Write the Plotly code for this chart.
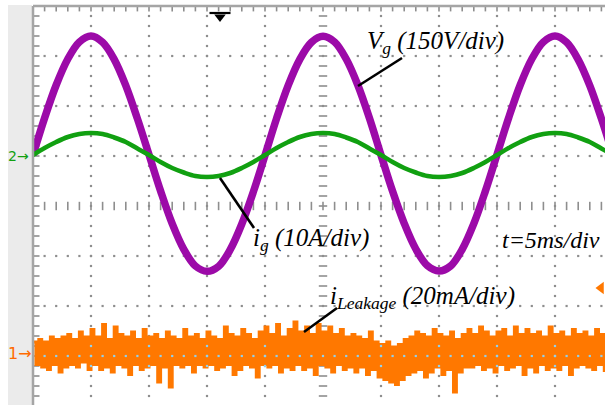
import plotly.graph_objects as go

# ---------------- data ----------------
t_ms = list(range(0, 51))  # 1 ms samples, 5 ms/div

vg_volts = [0, 111, 210, 288, 339, 357, 338, 287, 208, 109,
            1, -108, -206, -283, -333, -349, -334, -284, -207, -110,
            -1, 110, 209, 287, 338, 356, 339, 288, 210, 111,
            0, -109, -205, -282, -332, -348, -333, -283, -206, -108,
            1, 111, 210, 288, 339, 357, 338, 286, 208, 109, 0]

ig_amps = [0, 1.4, 2.6, 3.6, 4.2, 4.4, 4.2, 3.5, 2.6, 1.3,
           0, -1.4, -2.6, -3.5, -4.2, -4.4, -4.2, -3.6, -2.6, -1.4,
           0, 1.4, 2.6, 3.6, 4.2, 4.4, 4.2, 3.5, 2.6, 1.3,
           0, -1.4, -2.6, -3.5, -4.2, -4.4, -4.2, -3.6, -2.6, -1.4,
           0, 1.4, 2.6, 3.6, 4.2, 4.4, 4.2, 3.5, 2.6, 1.3, 0]

leak_step_ms = 0.25
leak_ma = [4, -5, 5, -6, 4, -7, 6, -5, 5, -8,
           6, -6, 7, -5, 5, -6, 8, -4, 6, -7,
           9, -5, 6, -7, 11, -6, 5, -8, 10, -5,
           7, -6, 6, -9, 8, -5, 5, -7, 9, -6,
           6, -5, 7, -12, 5, -6, 8, -14, 6, -5,
           5, -6, 9, -5, 6, -8, 7, -5, 5, -6,
           8, -5, 6, -7, 5, -6, 10, -5, 7, -9,
           6, -7, 9, -5, 7, -6, 5, -10, 8, -5,
           10, -6, 7, -5, 11, -8, 6, -6, 9, -7,
           12, -5, 8, -7, 10, -6, 7, -9, 11, -5,
           8, -6, 10, -8, 7, -5, 9, -7, 6, -6,
           7, -8, 6, -6, 5, -9, 8, -7, 4, -10,
           3, -11, 4, -12, 2, -13, 3, -11, 5, -9,
           6, -8, 8, -7, 7, -10, 6, -8, 9, -6,
           7, -9, 6, -7, 8, -16, 5, -8, 7, -6,
           9, -6, 7, -5, 10, -7, 8, -6, 6, -8,
           8, -5, 9, -7, 6, -6, 10, -5, 7, -9,
           9, -6, 7, -8, 8, -5, 6, -7, 10, -6,
           7, -7, 8, -5, 6, -9, 9, -6, 7, -5,
           8, -6, 6, -7, 9, -5, 7, -8]

# channel scales (units per division) and ground levels (divisions)
VG_PER_DIV, IG_PER_DIV, LEAK_PER_DIV = 150.0, 10.0, 20.0
VG_GND, IG_GND, LEAK_GND = 1.02, 1.02, -2.92

# ---------------- geometry ----------------
W, H = 605, 405
ML, MT = 33, 6
PX_PER_DIV_X, PX_PER_DIV_Y = 58.0, 50.0
MS_PER_DIV = 5.0
X_MAX = (W - ML) / PX_PER_DIV_X * MS_PER_DIV
Y_MIN = -4 + 1 / PX_PER_DIV_Y
Y_MAX = 4.0


def px2x(px):
    return (px - ML) / PX_PER_DIV_X * MS_PER_DIV


def px2y(py):
    return (206 - py) / PX_PER_DIV_Y


PURPLE = "#9c0aa8"
GREEN = "#11a011"
ORANGE = "#ff7800"
DOT = "#8e8e8e"

fig = go.Figure()

# ---- grid dots ----
gx, gy = [], []
for k in range(1, 10):
    if k == 5:
        continue
    for j in range(-20, 20):
        gx.append(k * MS_PER_DIV)
        gy.append(j * 0.2)
for r in [-3, -2, -1, 1, 2, 3]:
    for m in range(1, 50):
        gx.append(m)
        gy.append(r)
fig.add_trace(go.Scatter(x=gx, y=gy, mode="markers",
                         marker=dict(symbol="square", size=2.2, color=DOT),
                         hoverinfo="skip", showlegend=False))

# center cross ticks
fig.add_trace(go.Scatter(x=[25] * 40, y=[j * 0.2 for j in range(-20, 20)], mode="markers",
                         marker=dict(symbol="line-ew", size=6, line=dict(width=1.6, color=DOT)),
                         hoverinfo="skip", showlegend=False))
fig.add_trace(go.Scatter(x=list(range(1, 50)), y=[0] * 49, mode="markers",
                         marker=dict(symbol="line-ns", size=6, line=dict(width=1.6, color=DOT)),
                         hoverinfo="skip", showlegend=False))
# border ticks
fig.add_trace(go.Scatter(x=list(range(1, 50)), y=[Y_MAX - 0.045] * 49, mode="markers",
                         marker=dict(symbol="line-ns", size=4.5, line=dict(width=1.6, color=DOT)),
                         hoverinfo="skip", showlegend=False, cliponaxis=False))
fig.add_trace(go.Scatter(x=[px2x(36)] * 40, y=[j * 0.2 for j in range(-20, 20)], mode="markers",
                         marker=dict(symbol="line-ew", size=5, line=dict(width=1.6, color=DOT)),
                         hoverinfo="skip", showlegend=False, cliponaxis=False))

# ---- signals ----
leak_t = [i * leak_step_ms for i in range(len(leak_ma))]
fig.add_trace(go.Scatter(x=leak_t, y=[v / LEAK_PER_DIV + LEAK_GND for v in leak_ma],
                         mode="lines", line=dict(color=ORANGE, width=3.0, shape="hv"),
                         hoverinfo="skip", showlegend=False))
# light-blue grid dots showing through the orange band
bx = [m for m in range(1, 50)]
by = [-3] * 49
for k in range(1, 10):
    if k == 5:
        continue
    for j in (-16, -15, -14):
        bx.append(k * MS_PER_DIV)
        by.append(j * 0.2)
fig.add_trace(go.Scatter(x=bx, y=by, mode="markers",
                         marker=dict(symbol="square", size=2.2, color="#8fd0ee"),
                         hoverinfo="skip", showlegend=False))

fig.add_trace(go.Scatter(x=t_ms, y=[v / VG_PER_DIV + VG_GND for v in vg_volts],
                         mode="lines", line=dict(color=PURPLE, width=7.5, shape="spline"),
                         hoverinfo="skip", showlegend=False))
fig.add_trace(go.Scatter(x=t_ms, y=[v / IG_PER_DIV + IG_GND for v in ig_amps],
                         mode="lines", line=dict(color=GREEN, width=4.5, shape="spline"),
                         hoverinfo="skip", showlegend=False))

# ---- scope markers ----
fig.add_trace(go.Scatter(x=[px2x(220)], y=[px2y(13)], mode="markers",
                         marker=dict(symbol="line-ew", size=15, line=dict(width=2.2, color="black")),
                         hoverinfo="skip", showlegend=False, cliponaxis=False))
fig.add_trace(go.Scatter(x=[px2x(220)], y=[px2y(17)], mode="markers",
                         marker=dict(symbol="triangle-down", size=10, color="black"),
                         hoverinfo="skip", showlegend=False, cliponaxis=False))
fig.add_trace(go.Scatter(x=[px2x(601)], y=[px2y(288)], mode="markers",
                         marker=dict(symbol="triangle-left", size=11, color=ORANGE),
                         hoverinfo="skip", showlegend=False, cliponaxis=False))

# ---- frame, strip and leader lines ----
shapes = [
    dict(type="rect", xref="paper", yref="paper", x0=-25 / 572, x1=-1 / 572, y0=-0.01, y1=1 + 1 / 399,
         fillcolor="#ebebeb", line=dict(width=0), layer="below"),
    dict(type="line", xref="paper", yref="paper", x0=0, x1=0, y0=-0.01, y1=1,
         line=dict(color="#a5a5a5", width=2.5)),
    dict(type="line", xref="paper", yref="paper", x0=0, x1=1.01, y0=1, y1=1,
         line=dict(color="#a5a5a5", width=2.5)),
]
leaders = [((402, 58), (358, 86)), ((220, 178), (254, 228)), ((304, 332), (337, 308))]
for (x0, y0), (x1, y1) in leaders:
    shapes.append(dict(type="line", xref="x", yref="y", x0=px2x(x0), y0=px2y(y0),
                       x1=px2x(x1), y1=px2y(y1), line=dict(color="black", width=2.6)))

SERIF = "Liberation Serif"
annotations = [
    dict(x=px2x(365), y=px2y(42), text="<i>V<sub>g</sub> (150V/div)</i>", xanchor="left", yanchor="middle",
         font=dict(family=SERIF, size=25, color="black")),
    dict(x=px2x(251), y=px2y(239), text="<i>i<sub>g</sub> (10A/div)</i>", xanchor="left", yanchor="middle",
         font=dict(family=SERIF, size=25, color="black")),
    dict(x=px2x(328), y=px2y(297), text="<i>i<sub>Leakage</sub> (20mA/div)</i>", xanchor="left", yanchor="middle",
         font=dict(family=SERIF, size=25, color="black")),
    dict(x=px2x(500), y=px2y(240), text="<i>t=5ms/div</i>", xanchor="left", yanchor="middle",
         font=dict(family=SERIF, size=24, color="black")),
    dict(x=-27 / 572, y=px2y(353), xref="paper", text="1→", xanchor="left", yanchor="middle",
         font=dict(family="DejaVu Sans", size=16, color="#ff6a00")),
    dict(x=-27 / 572, y=px2y(156), xref="paper", text="2→", xanchor="left", yanchor="middle",
         font=dict(family="DejaVu Sans", size=14, color=GREEN)),
]
for a in annotations:
    a.setdefault("xref", "x")
    a["yref"] = "y"
    a["showarrow"] = False

fig.update_layout(
    width=W, height=H, autosize=False,
    margin=dict(l=ML, r=0, t=MT, b=0, pad=0),
    paper_bgcolor="white", plot_bgcolor="white",
    xaxis=dict(range=[0, X_MAX], visible=False, fixedrange=True),
    yaxis=dict(range=[Y_MIN, Y_MAX], visible=False, fixedrange=True),
    shapes=shapes, annotations=annotations, showlegend=False,
)

fig.write_html("out.html")
